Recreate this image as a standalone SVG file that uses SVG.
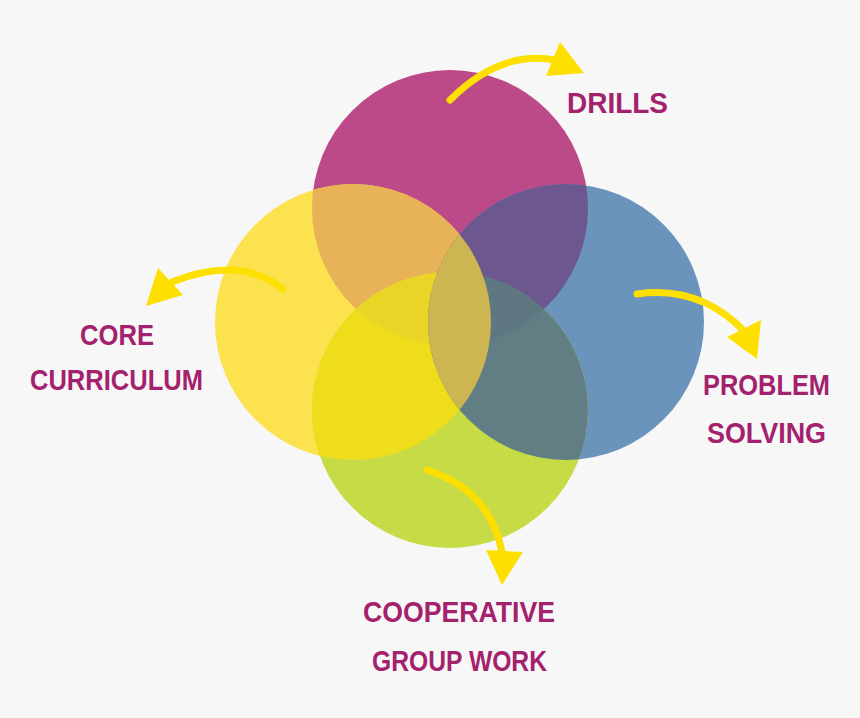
<svg xmlns="http://www.w3.org/2000/svg" width="860" height="718" viewBox="0 0 860 718">
<style>
.lbl{font-family:"Liberation Sans",Arial,sans-serif;font-weight:700;font-size:30px;fill:#a4216e;text-anchor:middle}
.arr{fill:none;stroke:#fde000;stroke-width:7;stroke-linecap:round}
.head{fill:#fde000}
</style>
<defs>
<clipPath id="cM"><circle cx="450" cy="208" r="138"/></clipPath>
<clipPath id="cY"><circle cx="353" cy="322" r="138"/></clipPath>
<clipPath id="cB"><circle cx="566" cy="322" r="138"/></clipPath>
<clipPath id="cG"><circle cx="450" cy="410" r="138"/></clipPath>
</defs>
<rect width="860" height="718" fill="#f7f7f7"/>
<g id="venn">
<circle id="magenta" cx="450" cy="208" r="138" fill="#bc4a89"/>
<circle id="yellow" cx="353" cy="322" r="138" fill="#fbe24e"/>
<circle id="blue" cx="566" cy="322" r="138" fill="#6a94bb"/>
<circle id="green" cx="450" cy="410" r="138" fill="#c7db46"/>
<circle cx="353" cy="322" r="138" fill="#e8b259" clip-path="url(#cM)"/>
<circle cx="566" cy="322" r="138" fill="#6c578f" clip-path="url(#cM)"/>
<circle cx="450" cy="410" r="138" fill="#efdd1c" clip-path="url(#cY)"/>
<circle cx="450" cy="410" r="138" fill="#617e84" clip-path="url(#cB)"/>
<g clip-path="url(#cM)"><circle cx="450" cy="410" r="138" fill="#e9d526" clip-path="url(#cY)"/></g>
<g clip-path="url(#cM)"><circle cx="450" cy="410" r="138" fill="#5e7780" clip-path="url(#cB)"/></g>
<circle cx="566" cy="322" r="138" fill="#cdb552" clip-path="url(#cY)"/>
</g>
<g id="connectors">
<path class="arr" d="M450,100 Q500,50 555,60"/>
<polygon class="head" points="560,42 584,73 546,76"/>
<path class="arr" d="M283,289 Q240,255 172,282"/>
<polygon class="head" points="158,268 146,306 183,295"/>
<path class="arr" d="M637,294 Q700,285 745,332"/>
<polygon class="head" points="761,320 757,359 727,337"/>
<path class="arr" d="M427,470 Q490,490 502,552"/>
<polygon class="head" points="486,550 502,585 523,552"/>
</g>
<g id="drills"><text class="lbl" x="617.5" y="113" textLength="101" lengthAdjust="spacingAndGlyphs">DRILLS</text></g>
<g id="core-curriculum"><text class="lbl" x="117" y="345" textLength="74" lengthAdjust="spacingAndGlyphs">CORE</text><text class="lbl" x="116.5" y="390" textLength="173" lengthAdjust="spacingAndGlyphs">CURRICULUM</text></g>
<g id="problem-solving"><text class="lbl" x="766.5" y="395" textLength="127" lengthAdjust="spacingAndGlyphs">PROBLEM</text><text class="lbl" x="766.5" y="443" textLength="119" lengthAdjust="spacingAndGlyphs">SOLVING</text></g>
<g id="cooperative-group-work"><text class="lbl" x="459" y="622" textLength="192" lengthAdjust="spacingAndGlyphs">COOPERATIVE</text><text class="lbl" x="459.5" y="671" textLength="175" lengthAdjust="spacingAndGlyphs">GROUP WORK</text></g>
</svg>
